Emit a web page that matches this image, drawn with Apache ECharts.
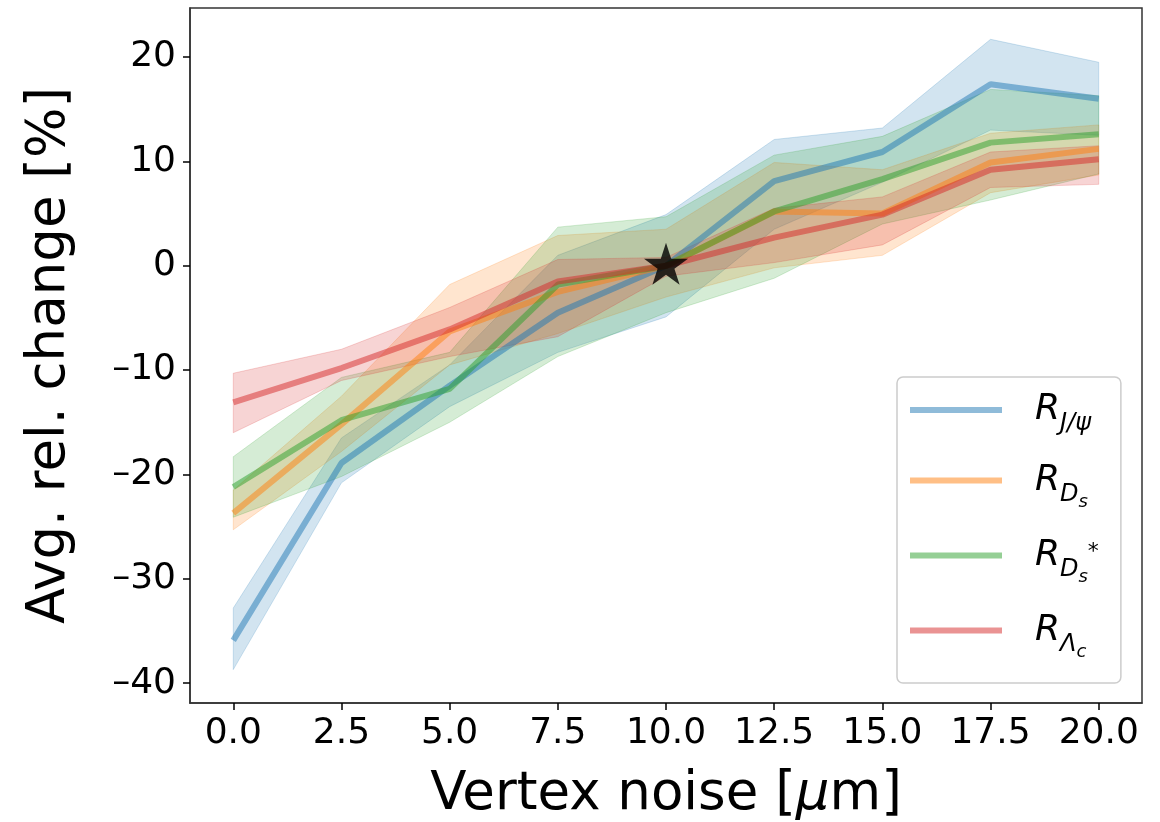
<!DOCTYPE html>
<html>
<head>
<meta charset="utf-8">
<script src="https://cdn.jsdelivr.net/npm/echarts@6/dist/echarts.min.js"></script>
<style>
  html, body { margin: 0; padding: 0; background: #fff; }
  #graph { width: 1160px; height: 822px; }
</style>
</head>
<body>
<div id="graph"></div>
<script>
// vertex noise [um]
var noise = [0, 2.5, 5, 7.5, 10, 12.5, 15, 17.5, 20];

var jpsiMean = [-35.9, -18.9, -11.5, -4.5, 0, 8.1, 10.9, 17.4, 16.0];
var jpsiLow  = [-38.7, -20.8, -13.5, -8.3, -4.9, 3.5, 8.0, 13.0, 12.5];
var jpsiHigh = [-32.8, -16.5, -9.5, 1.0, 4.9, 12.1, 13.2, 21.7, 19.5];

var dsMean = [-23.7, -15.2, -6.3, -2.5, 0, 5.2, 5.0, 9.9, 11.2];
var dsLow  = [-25.3, -17.8, -9.5, -6.5, -3.0, -0.2, 1.0, 7.0, 8.7];
var dsHigh = [-21.5, -12.5, -1.8, 2.9, 3.5, 9.9, 9.2, 12.7, 13.5];

var dsStarMean = [-21.2, -14.8, -11.8, -1.8, 0, 5.2, 8.3, 11.8, 12.6];
var dsStarLow  = [-24.1, -20.2, -15.0, -8.7, -4.5, -1.2, 4.0, 6.3, 8.8];
var dsStarHigh = [-18.3, -10.7, -8.3, 3.7, 4.7, 10.6, 12.4, 16.9, 16.3];

var lcMean = [-13.1, -9.8, -6.1, -1.5, 0, 2.7, 4.9, 9.2, 10.2];
var lcLow  = [-16.0, -11.0, -8.7, -6.8, -1.0, 0.3, 2.0, 7.5, 7.8];
var lcHigh = [-10.3, -8.0, -4.0, 0.6, 0.8, 5.5, 6.6, 10.9, 11.5];

var refPoint = [[10, 0]];

var xTicks = [0, 2.5, 5, 7.5, 10, 12.5, 15, 17.5, 20];
var yTicks = [-40, -30, -20, -10, 0, 10, 20];

var font = 'DejaVu Sans';
var starPath = 'path://M50,0L61.23,34.55L97.55,34.55L68.17,55.9L79.39,90.45L50,69.1L20.61,90.45L31.83,55.9L2.45,34.55L38.77,34.55Z';

var groups = [
    { name: 'J/ψ', rgb: '31,119,180', mean: jpsiMean, low: jpsiLow, high: jpsiHigh, label: '{r|R}{s|J/ψ}' },
    { name: 'Ds', rgb: '255,127,14', mean: dsMean, low: dsLow, high: dsHigh, label: '{r|R}{s|D}{ss|s}' },
    { name: 'Ds*', rgb: '44,160,44', mean: dsStarMean, low: dsStarLow, high: dsStarHigh, label: '{r|R}{s|D}{ss|s}{sup|*}' },
    { name: 'Λc', rgb: '214,39,40', mean: lcMean, low: lcLow, high: lcHigh, label: '{r|R}{s|Λ}{ss|c}' }
];

function bandRenderer(low, high, rgb) {
    return function (params, api) {
        var pts = [];
        for (var i = 0; i < noise.length; i++) pts.push(api.coord([noise[i], high[i]]));
        for (var j = noise.length - 1; j >= 0; j--) pts.push(api.coord([noise[j], low[j]]));
        return {
            type: 'polygon',
            shape: { points: pts },
            style: { fill: 'rgba(' + rgb + ',0.2)', stroke: 'rgba(' + rgb + ',0.2)', lineWidth: 1 }
        };
    };
}

var series = [];
groups.forEach(function (g) {
    series.push({
        name: g.name,
        type: 'line',
        data: noise.map(function (x, i) { return [x, g.mean[i]]; }),
        showSymbol: false,
        symbol: 'none',
        lineStyle: { color: 'rgba(' + g.rgb + ',0.5)', width: 6 },
        itemStyle: { color: 'rgba(' + g.rgb + ',0.5)' }
    });
    series.push({
        name: g.name + ' band',
        type: 'custom',
        data: [0],
        renderItem: bandRenderer(g.low, g.high, g.rgb),
        silent: true
    });
});
series.push({
    name: 'reference',
    type: 'scatter',
    data: refPoint,
    symbol: starPath,
    symbolSize: [44, 42],
    symbolOffset: [0, -2],
    itemStyle: { color: '#000' },
    z: 10
});

var axisCommon = {
    axisLine: { show: true, onZero: false, lineStyle: { color: '#333', width: 1.5 } },
    splitLine: { show: false }
};

var chart = echarts.init(document.getElementById('graph'));
chart.setOption({
    animation: false,
    textStyle: { fontFamily: font },
    grid: {
        left: 190, right: 18, top: 8, bottom: 119,
        outerBoundsMode: 'none',
        show: true, borderColor: '#333', borderWidth: 1.5
    },
    xAxis: {
        type: 'value',
        min: -1, max: 21,
        name: 'Vertex noise [{i|μ}m]',
        nameLocation: 'middle',
        nameGap: 66,
        nameTextStyle: {
            fontSize: 53, color: '#000', fontFamily: font,
            rich: { i: { fontSize: 53, fontStyle: 'italic', color: '#000', fontFamily: font } }
        },
        axisLine: axisCommon.axisLine,
        splitLine: axisCommon.splitLine,
        axisTick: { show: true, length: 7, lineStyle: { color: '#000', width: 1.5 }, customValues: xTicks },
        axisLabel: {
            fontSize: 36, color: '#000', margin: 13, fontFamily: font,
            customValues: xTicks,
            formatter: function (v) { return v.toFixed(1); }
        }
    },
    yAxis: {
        type: 'value',
        min: -41.9, max: 24.7,
        name: 'Avg. rel. change [%]',
        nameLocation: 'middle',
        nameGap: 113,
        nameTextStyle: { fontSize: 53, color: '#000', fontFamily: font },
        axisLine: axisCommon.axisLine,
        splitLine: axisCommon.splitLine,
        axisTick: { show: true, length: 7, lineStyle: { color: '#000', width: 1.5 }, customValues: yTicks },
        axisLabel: {
            fontSize: 36, color: '#000', margin: 14, fontFamily: font,
            customValues: yTicks,
            formatter: function (v) { return String(v).replace('-', '\u2013'); }
        }
    },
    legend: {
        orient: 'vertical',
        left: 897, top: 377,
        icon: 'rect',
        itemWidth: 92, itemHeight: 6,
        itemGap: 14,
        padding: [7, 22, 22, 13],
        borderColor: '#ccc', borderWidth: 1.5, borderRadius: 6,
        backgroundColor: 'rgba(255,255,255,0.8)',
        data: groups.map(function (g) {
            return { name: g.name, itemStyle: { color: 'rgba(' + g.rgb + ',0.5)' } };
        }),
        formatter: function (name) {
            for (var i = 0; i < groups.length; i++) if (groups[i].name === name) return groups[i].label;
            return name;
        },
        textStyle: {
            fontFamily: font, color: '#000',
            rich: {
                r: { fontSize: 36, fontStyle: 'italic', lineHeight: 58, padding: [0, 0, 0, 28], fontFamily: font, color: '#000' },
                s: { fontSize: 24, fontStyle: 'italic', lineHeight: 24, padding: [28, 0, 0, 0], fontFamily: font, color: '#000' },
                ss: { fontSize: 18, fontStyle: 'italic', lineHeight: 14, padding: [43, 0, 0, 0], fontFamily: font, color: '#000' },
                sup: { fontSize: 22, fontStyle: 'italic', lineHeight: 22, padding: [0, 0, 7, 0], fontFamily: font, color: '#000' }
            }
        }
    },
    series: series
});
</script>
</body>
</html>
